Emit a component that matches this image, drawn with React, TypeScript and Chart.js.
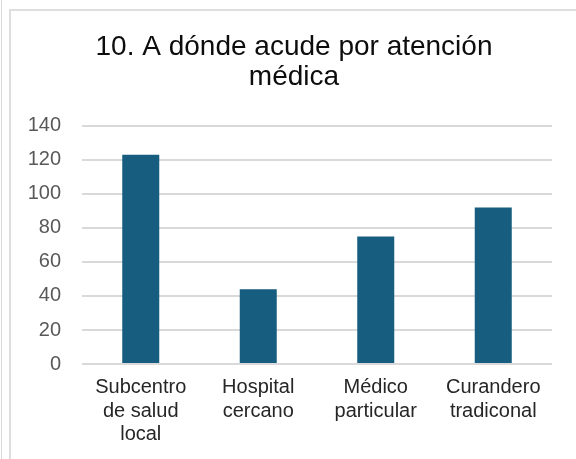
import React, { useEffect, useRef } from "react";
import { Chart, registerables } from "chart.js";

Chart.register(...registerables);

const TITLE_LINES = ["10. A dónde acude por atención", "médica"];
const CATEGORIES: string[][] = [
  ["Subcentro", "de salud", "local"],
  ["Hospital", "cercano"],
  ["Médico", "particular"],
  ["Curandero", "tradiconal"],
];
const VALUES = [123, 44, 75, 92];
const Y_MIN = 0;
const Y_MAX = 140;
const Y_STEP = 20;

const FONT = "'Liberation Sans', Arial, sans-serif";

export default function App() {
  const ref = useRef<HTMLCanvasElement | null>(null);

  useEffect(() => {
    if (!ref.current) return;
    const chart = new Chart(ref.current, {
      type: "bar",
      data: {
        labels: CATEGORIES,
        datasets: [
          {
            data: VALUES,
            backgroundColor: "#175d7f",
            borderWidth: 0,
            barPercentage: 1,
            categoryPercentage: 0.315,
            yAxisID: "y",
          },
        ],
      },
      options: {
        responsive: false,
        animation: false,
        layout: { padding: { left: 12, right: 0, top: 0, bottom: 0 } },
        plugins: {
          legend: { display: false },
          tooltip: { enabled: false },
          title: {
            display: true,
            text: TITLE_LINES,
            color: "#0d0d0d",
            font: { family: FONT, size: 28, weight: "normal", lineHeight: 1.07 },
            padding: { top: 32, bottom: 34 },
          },
        },
        scales: {
          x: {
            grid: { display: false, drawTicks: false },
            border: { display: false },
            ticks: {
              color: "#262626",
              font: { family: FONT, size: 20, lineHeight: 1.17 },
              padding: 12,
              maxRotation: 0,
              autoSkip: false,
            },
            afterFit: (axis: any) => {
              axis.height = 95;
            },
          },
          y: {
            position: "left",
            min: Y_MIN,
            max: Y_MAX,
            grid: { color: "#d9d9d9", lineWidth: 2, drawTicks: false },
            border: { display: false },
            ticks: {
              stepSize: Y_STEP,
              color: "#595959",
              font: { family: FONT, size: 20 },
              padding: 21,
            },
            afterFit: (axis: any) => {
              axis.width = 70;
            },
          },
          yRight: {
            position: "right",
            display: true,
            min: Y_MIN,
            max: Y_MAX,
            grid: { display: false, drawTicks: false },
            border: { display: false },
            ticks: { display: false },
            afterFit: (axis: any) => {
              axis.width = 24;
            },
          },
        },
      },
    });
    return () => chart.destroy();
  }, []);

  return (
    <div
      style={{
        position: "fixed",
        left: 0,
        top: 0,
        width: 576,
        height: 459,
        background: "#ffffff",
        overflow: "hidden",
      }}
    >
      <div
        style={{
          position: "absolute",
          left: 1,
          top: 0,
          width: 1,
          height: 459,
          background: "#d9d9d9",
        }}
      />
      <div
        style={{
          position: "absolute",
          left: 9,
          top: 9,
          right: -2,
          bottom: -2,
          borderTop: "2px solid #dedede",
          borderLeft: "2px solid #dedede",
        }}
      />
      <canvas
        ref={ref}
        width={576}
        height={459}
        style={{ position: "absolute", left: 0, top: 0, width: 576, height: 459 }}
      />
    </div>
  );
}
